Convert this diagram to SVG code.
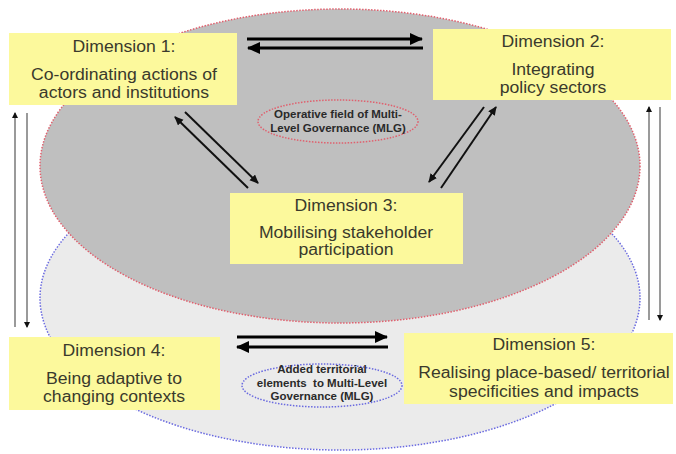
<svg xmlns="http://www.w3.org/2000/svg" width="676" height="454" viewBox="0 0 676 454">
<style>
.box{fill:#fcf99c;}
.t{font-family:"Liberation Sans",Arial,sans-serif;font-size:15.6px;fill:#3a3a2c;text-anchor:middle;}
.s{font-family:"Liberation Sans",Arial,sans-serif;font-size:11.5px;font-weight:bold;fill:#2a2a2a;text-anchor:middle;}
.thick{stroke:#000;stroke-width:3.2;fill:none;marker-end:url(#big);}
.diag{stroke:#111;stroke-width:2;fill:none;marker-end:url(#mid);}
.vert{stroke:#9a9a9a;stroke-width:2;fill:none;marker-end:url(#small);}
</style>
<defs>
<marker id="big" markerUnits="userSpaceOnUse" markerWidth="14" markerHeight="12" refX="12" refY="6" orient="auto"><path d="M0,0 L13,6 L0,12 Z" fill="#000"/></marker>
<marker id="mid" markerUnits="userSpaceOnUse" markerWidth="10" markerHeight="10" refX="8" refY="4" orient="auto"><path d="M0,0 L9,4 L0,8 Z" fill="#111"/></marker>
<marker id="small" markerUnits="userSpaceOnUse" markerWidth="8" markerHeight="8" refX="5" refY="3" orient="auto"><path d="M0,0 L6,3 L0,6 Z" fill="#111"/></marker>
</defs>
<rect width="676" height="454" fill="#ffffff"/>
<g id="field-territorial">
<ellipse cx="340" cy="298" rx="300" ry="152" fill="#ebebeb" stroke="#6a6ae0" stroke-width="1.5" stroke-dasharray="1.5 1.5"/>
</g>
<g id="field-operative">
<ellipse cx="340" cy="166" rx="300" ry="157" fill="#bfbfbf" stroke="#e0606e" stroke-width="1.5" stroke-dasharray="1.5 1.5"/>
</g>
<g id="label-operative">
<ellipse cx="338" cy="121.5" rx="80" ry="21.5" fill="#c2c2c2" stroke="#e0606e" stroke-width="1.5" stroke-dasharray="1.5 1.5"/>
<text class="s" x="338" y="118">Operative field of Multi-</text>
<text class="s" x="338" y="132">Level Governance (MLG)</text>
</g>
<g id="label-territorial">
<ellipse cx="322" cy="385.5" rx="80" ry="21.5" fill="#ebebeb" stroke="#6a6ae0" stroke-width="1.5" stroke-dasharray="1.5 1.5"/>
<text class="s" x="322" y="373">Added territorial</text>
<text class="s" x="322" y="387">elements&#160; to Multi-Level</text>
<text class="s" x="322" y="400">Governance (MLG)</text>
</g>
<g id="connectors">
<path class="thick" d="M247,39 L422,39"/>
<path class="thick" d="M423,48 L248,48"/>
<path class="thick" d="M237,337 L387,337"/>
<path class="thick" d="M388,347 L237,347"/>
<path class="diag" d="M248,188 L175,117"/>
<path class="diag" d="M185,112 L258,183"/>
<path class="diag" d="M484,107 L429,182"/>
<path class="diag" d="M441,188 L496,107"/>
<path class="vert" d="M15,327 L15,113"/>
<path class="vert" d="M27,113 L27,327"/>
<path class="vert" d="M649,320 L649,107"/>
<path class="vert" d="M660,107 L660,320"/>
</g>
<g id="dim1">
<rect class="box" x="9" y="33" width="228" height="72"/>
<g transform="translate(124 0) scale(1.13 1)">
<text class="t" x="0" y="52">Dimension 1:</text>
<text class="t" x="0" y="80">Co-ordinating actions of</text>
<text class="t" x="0" y="98">actors and institutions</text>
</g>
</g>
<g id="dim2">
<rect class="box" x="433" y="29" width="238" height="71"/>
<g transform="translate(553 0) scale(1.13 1)">
<text class="t" x="0" y="47">Dimension 2:</text>
<text class="t" x="0" y="75">Integrating</text>
<text class="t" x="0" y="93">policy sectors</text>
</g>
</g>
<g id="dim3">
<rect class="box" x="230" y="193" width="233" height="71"/>
<g transform="translate(346 0) scale(1.13 1)">
<text class="t" x="0" y="211">Dimension 3:</text>
<text class="t" x="0" y="238">Mobilising stakeholder</text>
<text class="t" x="0" y="255">participation</text>
</g>
</g>
<g id="dim4">
<rect class="box" x="9" y="337" width="211" height="73"/>
<g transform="translate(114 0) scale(1.13 1)">
<text class="t" x="0" y="356">Dimension 4:</text>
<text class="t" x="0" y="384">Being adaptive to</text>
<text class="t" x="0" y="402">changing contexts</text>
</g>
</g>
<g id="dim5">
<rect class="box" x="404" y="333" width="269" height="71"/>
<g transform="translate(544 0) scale(1.13 1)">
<text class="t" x="0" y="350">Dimension 5:</text>
<text class="t" x="0" y="378">Realising place-based/ territorial</text>
<text class="t" x="0" y="397">specificities and impacts</text>
</g>
</g>
</svg>
